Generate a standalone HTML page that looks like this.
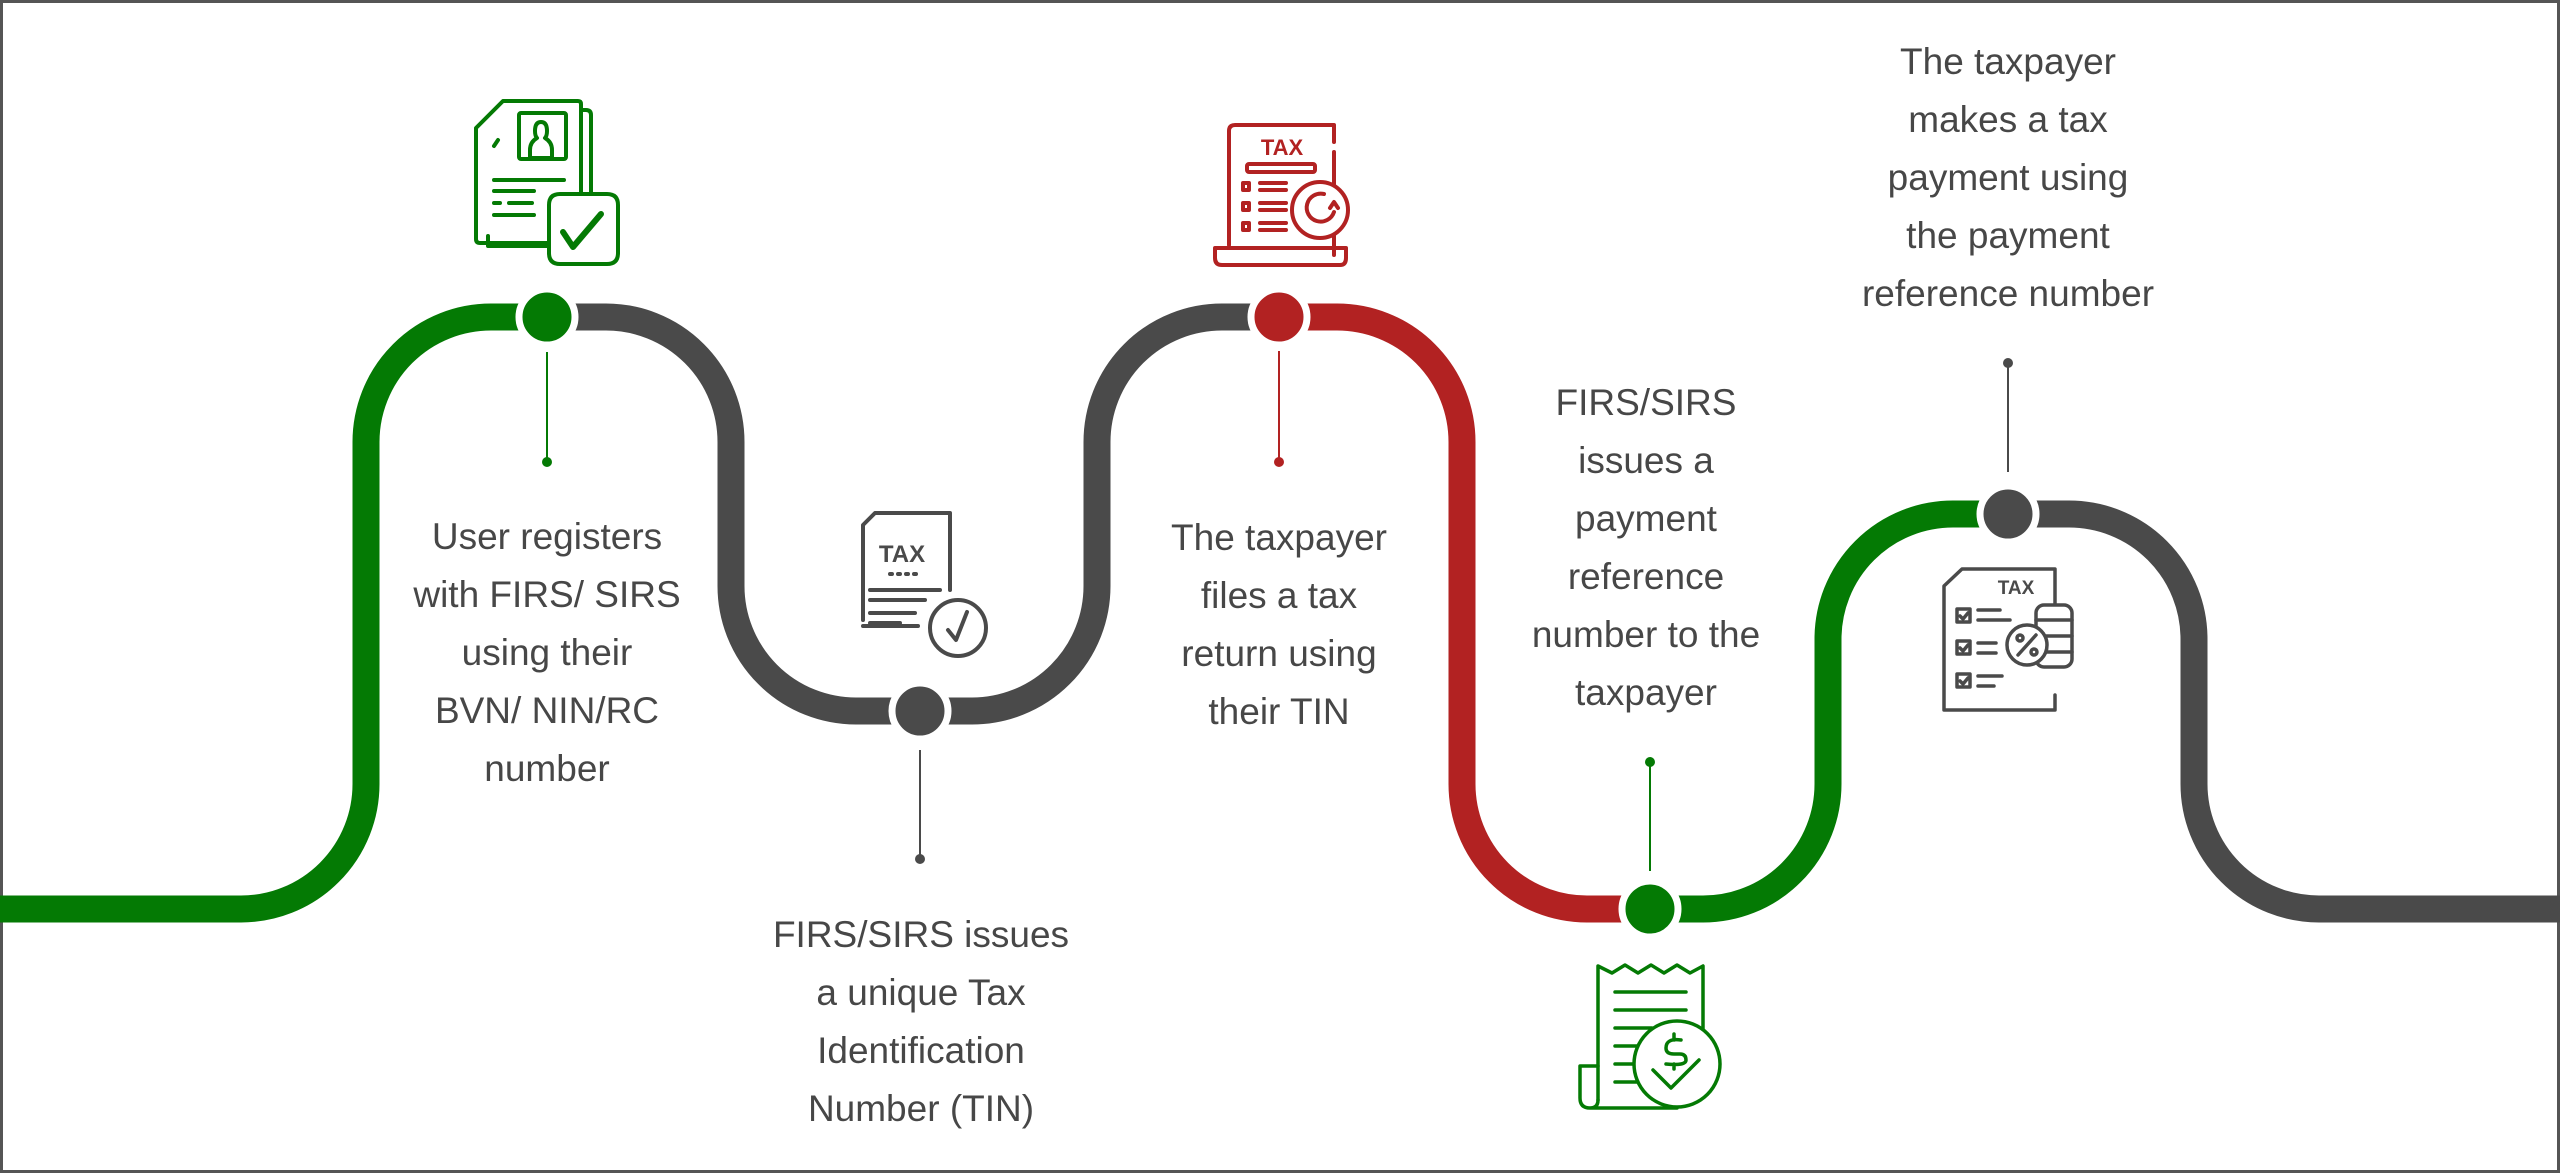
<!DOCTYPE html>
<html><head><meta charset="utf-8"><style>
html,body{margin:0;padding:0;background:#fff}
svg{display:block}
text{font-family:"Liberation Sans",sans-serif;font-size:37px;fill:#474747;text-anchor:middle}
</style></head><body>
<svg width="2560" height="1173" viewBox="0 0 2560 1173" xmlns="http://www.w3.org/2000/svg">
<rect x="1.5" y="1.5" width="2557" height="1170" fill="#fff" stroke="#555" stroke-width="3"/>
<g fill="none" stroke-width="27">
<path d="M0 909 H241 A125 125 0 0 0 366 784 V442 A125 125 0 0 1 491 317 H547" stroke="#047a04"/>
<path d="M547 317 H606 A125 125 0 0 1 731 442 V586 A125 125 0 0 0 856 711 H972 A125 125 0 0 0 1097 586 V442 A125 125 0 0 1 1222 317 H1279" stroke="#4a4a4a"/>
<path d="M1279 317 H1337 A125 125 0 0 1 1462 442 V784 A125 125 0 0 0 1587 909 H1650" stroke="#b22222"/>
<path d="M1650 909 H1703 A125 125 0 0 0 1828 784 V639 A125 125 0 0 1 1953 514 H2008" stroke="#047a04"/>
<path d="M2008 514 H2069 A125 125 0 0 1 2194 639 V784 A125 125 0 0 0 2319 909 H2560" stroke="#4a4a4a"/>
</g>
<g stroke="#fff" stroke-width="7">
<circle cx="547" cy="317" r="28" fill="#047a04"/>
<circle cx="920" cy="711" r="28" fill="#4a4a4a"/>
<circle cx="1279" cy="317" r="28" fill="#b22222"/>
<circle cx="1650" cy="909" r="28" fill="#047a04"/>
<circle cx="2008" cy="514" r="28" fill="#4a4a4a"/>
</g>
<g stroke-width="2">
<line x1="547" y1="352" x2="547" y2="462" stroke="#047a04"/><circle cx="547" cy="462" r="5" fill="#047a04"/>
<line x1="920" y1="750" x2="920" y2="859" stroke="#4a4a4a"/><circle cx="920" cy="859" r="5" fill="#4a4a4a"/>
<line x1="1279" y1="351" x2="1279" y2="462" stroke="#b22222"/><circle cx="1279" cy="462" r="5" fill="#b22222"/>
<line x1="1650" y1="762" x2="1650" y2="871" stroke="#047a04"/><circle cx="1650" cy="762" r="5" fill="#047a04"/>
<line x1="2008" y1="363" x2="2008" y2="472" stroke="#4a4a4a"/><circle cx="2008" cy="363" r="5" fill="#4a4a4a"/>
</g>
<g>
<text x="547" y="549">User registers</text><text x="547" y="607">with FIRS/ SIRS</text><text x="547" y="665">using their</text><text x="547" y="723">BVN/ NIN/RC</text><text x="547" y="781">number</text>
<text x="921" y="947">FIRS/SIRS issues</text><text x="921" y="1005">a unique Tax</text><text x="921" y="1063">Identification</text><text x="921" y="1121">Number (TIN)</text>
<text x="1279" y="550">The taxpayer</text><text x="1279" y="608">files a tax</text><text x="1279" y="666">return using</text><text x="1279" y="724">their TIN</text>
<text x="1646" y="415">FIRS/SIRS</text><text x="1646" y="473">issues a</text><text x="1646" y="531">payment</text><text x="1646" y="589">reference</text><text x="1646" y="647">number to the</text><text x="1646" y="705">taxpayer</text>
<text x="2008" y="74">The taxpayer</text><text x="2008" y="132">makes a tax</text><text x="2008" y="190">payment using</text><text x="2008" y="248">the payment</text><text x="2008" y="306">reference number</text>
</g>
<!-- icon1 green -->
<g fill="none" stroke="#047a04" stroke-width="4" stroke-linecap="round" stroke-linejoin="round">
<path d="M476 152 V128 L503 101 H578 Q581 101 581 104 V200 M549 243 H480 Q476 243 476 239 V140"/>
<path d="M581 110 H586 Q591 110 591 115 V200 M549 246 H488 V236"/>
<rect x="519" y="113" width="47" height="46" rx="2"/>
<path d="M535 131 Q535 122 541 122 Q547 122 547 131 Q547 136 545 138 Q552 142 552 150 V158 H530 V150 Q530 142 537 138 Q535 136 535 131 Z"/>
<path d="M494 146 L498 140 M494 180 H564 M494 191 H534 M494 203 H500 M509 203 H532 M494 215 H534"/>
<path d="M560 194 H607 Q618 194 618 205 V253 Q618 264 607 264 H560 Q549 264 549 253 V205 Q549 194 560 194 Z" fill="#fff"/>
<path d="M563 232 L573 247 L601 214" stroke-width="6"/>
</g>
<!-- icon2 gray -->
<g fill="none" stroke="#4a4a4a" stroke-width="4" stroke-linecap="round" stroke-linejoin="round">
<path d="M863 620 V525 L875 513 H950 V590 M918 626 H863"/>
<text x="902" y="562" style="font-size:24px;font-weight:bold;fill:#4a4a4a;stroke:none">TAX</text>
<path d="M890 574 H892 M898 574 H900 M906 574 H908 M914 574 H916 M870 590 H940 M870 600 H925 M870 613 H915 M870 623 H900"/>
<circle cx="958" cy="628" r="28"/><path d="M948 630 L956 640 L967 612"/>
</g>
<!-- icon3 red -->
<g fill="none" stroke="#b22222" stroke-width="4" stroke-linecap="round" stroke-linejoin="round">
<path d="M1229 245 V131 Q1229 125 1235 125 H1334 V142 M1334 152 V255 M1215 248 V258 Q1215 265 1222 265 H1340 Q1346 265 1346 258 V248 H1215"/>
<text x="1282" y="155" style="font-size:22px;font-weight:bold;fill:#b22222;stroke:none">TAX</text>
<rect x="1247" y="164" width="68" height="8" rx="2"/>
<rect x="1243" y="183" width="6" height="7"/><rect x="1243" y="203" width="6" height="7"/><rect x="1243" y="223" width="6" height="7"/>
<path d="M1260 183 H1286 M1260 190 H1286 M1260 203 H1286 M1260 210 H1286 M1260 223 H1286 M1260 230 H1286"/>
<circle cx="1320" cy="210" r="28" fill="#fff"/><path d="M1324 194 A14 14 0 1 0 1334 212 M1330 208 L1334 202 L1338 208"/>
</g>
<!-- icon4 green -->
<g fill="none" stroke="#047a04" stroke-width="3.5" stroke-linecap="round" stroke-linejoin="round">
<path d="M1598 1100 V966 L1612 973 L1625 965 L1638 973 L1651 965 L1664 973 L1677 965 L1690 973 L1703 966 V1030"/>
<path d="M1615 992 H1686 M1615 1010 H1686 M1615 1028 H1652 M1615 1046 H1637 M1615 1064 H1637 M1615 1082 H1637"/>
<path d="M1598 1066 H1580 V1098 Q1580 1108 1590 1108 H1677 M1590 1108 Q1598 1108 1598 1100"/>
<circle cx="1677" cy="1064" r="43" fill="#fff"/>
<path d="M1681 1040 Q1666 1038 1666 1048 Q1666 1054 1674 1054 H1680 Q1686 1054 1686 1060 Q1686 1066 1666 1064 M1674 1034 V1040 M1674 1064 V1069 M1653 1070 L1671 1088 L1699 1060"/>
</g>
<!-- icon5 gray -->
<g fill="none" stroke="#4a4a4a" stroke-width="3.5" stroke-linecap="round" stroke-linejoin="round">
<path d="M1944 710 V586 L1962 569 H2055 V605 M2055 695 V710 H1944"/>
<text x="2016" y="594" style="font-size:19px;font-weight:bold;fill:#4a4a4a;stroke:none">TAX</text>
<rect x="1957" y="609" width="13" height="13"/><rect x="1957" y="641" width="13" height="13"/><rect x="1957" y="674" width="13" height="13"/>
<path d="M1960 616 L1963 619 L1968 613 M1960 648 L1963 651 L1968 645 M1960 681 L1963 684 L1968 678 M1978 610 H2000 M1978 620 H2010 M1978 643 H1996 M1978 653 H1996 M1978 676 H2002 M1978 686 H1994"/>
<rect x="2036" y="605" width="36" height="62" rx="8" fill="#fff"/>
<path d="M2036 620 H2072 M2036 636 H2072 M2036 652 H2072"/>
<circle cx="2027" cy="645" r="20" fill="#fff"/>
<path d="M2018 655 L2036 635"/><circle cx="2020" cy="638" r="3"/><circle cx="2034" cy="652" r="3"/>
</g>
</svg>
</body></html>
